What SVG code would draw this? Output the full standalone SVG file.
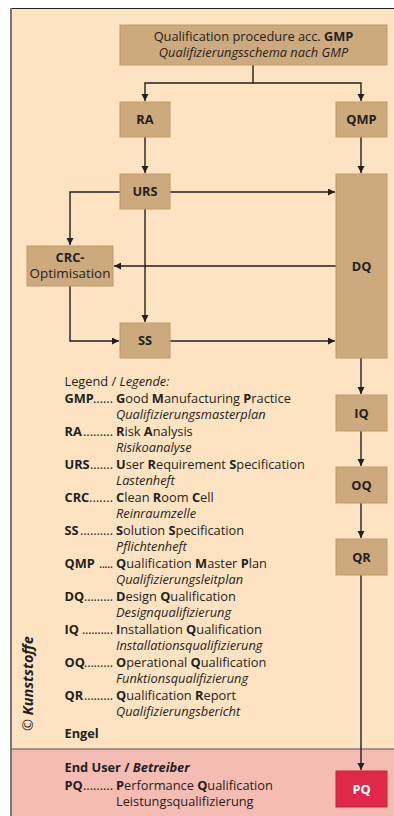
<svg xmlns="http://www.w3.org/2000/svg" width="394" height="816" viewBox="0 0 394 816">
  <style>
    text { font-family: "Open Sans", "Noto Sans", "Liberation Sans", sans-serif; fill: #231f20; }
    .node rect { fill: #cdaa7d; stroke: #bf9a6a; stroke-width: 1; }
    .lbl { font-size: 12.8px; font-weight: bold; text-anchor: middle; }
    .top { font-size: 12.8px; text-anchor: middle; }
    .lg { font-size: 12.8px; }
    .b { font-weight: bold; }
    .i { font-style: italic; }
    .conn path { fill: none; stroke: #231f20; stroke-width: 1.4; }
  </style>
  <defs>
    <marker id="arrow" markerUnits="userSpaceOnUse" markerWidth="8" markerHeight="8" refX="7" refY="3.5" orient="auto">
      <path d="M0,0 L7,3.5 L0,7 z" fill="#231f20"/>
    </marker>
  </defs>

  <!-- frame and backgrounds -->
  <rect x="0" y="0" width="394" height="816" fill="#ffffff"/>
  <rect x="11" y="8" width="383" height="741" fill="#fde3c2"/>
  <rect x="11" y="749" width="383" height="67" fill="#f5bcb4"/>
  <line x1="11" y1="749" x2="394" y2="749" stroke="#555" stroke-width="1"/>
  <line x1="10" y1="8.5" x2="394" y2="8.5" stroke="#222" stroke-width="1.2"/>
  <line x1="11" y1="8" x2="11" y2="816" stroke="#777" stroke-width="2"/>

  <!-- connectors -->
  <g class="conn" id="connectors">
    <path d="M253,65 V83 H145 V101" marker-end="url(#arrow)"/>
    <path d="M253,83 H361 V101" marker-end="url(#arrow)"/>
    <path d="M145,137 V173" marker-end="url(#arrow)"/>
    <path d="M361,137 V173" marker-end="url(#arrow)"/>
    <path d="M170,192 H335" marker-end="url(#arrow)"/>
    <path d="M120,192 H70 V245" marker-end="url(#arrow)"/>
    <path d="M145,209 V322" marker-end="url(#arrow)"/>
    <path d="M336,266 H114" marker-end="url(#arrow)"/>
    <path d="M70,286 V341 H119" marker-end="url(#arrow)"/>
    <path d="M170,341 H335" marker-end="url(#arrow)"/>
    <path d="M361,358 V394" marker-end="url(#arrow)"/>
    <path d="M361,431 V466" marker-end="url(#arrow)"/>
    <path d="M361,503 V538" marker-end="url(#arrow)"/>
    <path d="M361,575 V770" marker-end="url(#arrow)"/>
  </g>

  <!-- nodes -->
  <g class="node" id="node-gmp">
    <rect x="120" y="25" width="267" height="40"/>
    <text class="top" x="253.5" y="40.5">Qualification procedure acc. <tspan class="b">GMP</tspan></text>
    <text class="top i" x="253.5" y="56.5">Qualifizierungsschema nach GMP</text>
  </g>
  <g class="node" id="node-ra">
    <rect x="120" y="102" width="50" height="35"/>
    <text class="lbl" x="145" y="124">RA</text>
  </g>
  <g class="node" id="node-qmp">
    <rect x="336" y="102" width="51" height="35"/>
    <text class="lbl" x="361.5" y="124">QMP</text>
  </g>
  <g class="node" id="node-urs">
    <rect x="120" y="174" width="50" height="35"/>
    <text class="lbl" x="145" y="196">URS</text>
  </g>
  <g class="node" id="node-dq">
    <rect x="336" y="174" width="51" height="184"/>
    <text class="lbl" x="361.5" y="270.5">DQ</text>
  </g>
  <g class="node" id="node-crc">
    <rect x="27" y="246" width="86" height="40"/>
    <text class="lbl" x="70" y="262">CRC-</text>
    <text class="top" x="70" y="277.5" style="font-size:13.4px">Optimisation</text>
  </g>
  <g class="node" id="node-ss">
    <rect x="120" y="323" width="50" height="35"/>
    <text class="lbl" x="145" y="345">SS</text>
  </g>
  <g class="node" id="node-iq">
    <rect x="336" y="395" width="51" height="36"/>
    <text class="lbl" x="361.5" y="417.5">IQ</text>
  </g>
  <g class="node" id="node-oq">
    <rect x="336" y="467" width="51" height="36"/>
    <text class="lbl" x="361.5" y="489.5">OQ</text>
  </g>
  <g class="node" id="node-qr">
    <rect x="336" y="539" width="51" height="36"/>
    <text class="lbl" x="361.5" y="561.5">QR</text>
  </g>
  <g id="node-pq">
    <rect x="336" y="771" width="51" height="36" fill="#e0284a" stroke="#c81f3d" stroke-width="1"/>
    <text class="lbl" x="361.5" y="793.5" style="fill:#ffffff">PQ</text>
  </g>

  <!-- legend: abbreviation, dot leader pinned to end at x=113, description -->
  <g id="legend" class="lg">
    <text x="64.5" y="386">Legend / <tspan class="i">Legende:</tspan></text>

    <text class="b" x="64.5" y="402.5">GMP</text>
    <text x="93" y="402.5" textLength="20" lengthAdjust="spacing">......</text>
    <text x="116" y="402.5"><tspan class="b">G</tspan>ood <tspan class="b">M</tspan>anufacturing <tspan class="b">P</tspan>ractice</text>
    <text class="i" x="116" y="419">Qualifizierungsmasterplan</text>

    <text class="b" x="64.5" y="435.5">RA</text>
    <text x="83" y="435.5" textLength="30" lengthAdjust="spacing">.........</text>
    <text x="116" y="435.5"><tspan class="b">R</tspan>isk <tspan class="b">A</tspan>nalysis</text>
    <text class="i" x="116" y="452">Risikoanalyse</text>

    <text class="b" x="64.5" y="468.5">URS</text>
    <text x="90" y="468.5" textLength="23" lengthAdjust="spacing">.......</text>
    <text x="116" y="468.5"><tspan class="b">U</tspan>ser <tspan class="b">R</tspan>equirement <tspan class="b">S</tspan>pecification</text>
    <text class="i" x="116" y="485">Lastenheft</text>

    <text class="b" x="64.5" y="501.5">CRC</text>
    <text x="89" y="501.5" textLength="24" lengthAdjust="spacing">.......</text>
    <text x="116" y="501.5"><tspan class="b">C</tspan>lean <tspan class="b">R</tspan>oom <tspan class="b">C</tspan>ell</text>
    <text class="i" x="116" y="518">Reinraumzelle</text>

    <text class="b" x="64.5" y="534.5">SS</text>
    <text x="80" y="534.5" textLength="33" lengthAdjust="spacing">..........</text>
    <text x="116" y="534.5"><tspan class="b">S</tspan>olution <tspan class="b">S</tspan>pecification</text>
    <text class="i" x="116" y="551">Pflichtenheft</text>

    <text class="b" x="64.5" y="567.5">QMP</text>
    <text x="99" y="567.5" textLength="14" lengthAdjust="spacing">.....</text>
    <text x="116" y="567.5"><tspan class="b">Q</tspan>ualification <tspan class="b">M</tspan>aster <tspan class="b">P</tspan>lan</text>
    <text class="i" x="116" y="584">Qualifizierungsleitplan</text>

    <text class="b" x="64.5" y="600.5">DQ</text>
    <text x="84" y="600.5" textLength="29" lengthAdjust="spacing">.........</text>
    <text x="116" y="600.5"><tspan class="b">D</tspan>esign <tspan class="b">Q</tspan>ualification</text>
    <text class="i" x="116" y="617">Designqualifizierung</text>

    <text class="b" x="64.5" y="633.5">IQ</text>
    <text x="82" y="633.5" textLength="31" lengthAdjust="spacing">..........</text>
    <text x="116" y="633.5"><tspan class="b">I</tspan>nstallation <tspan class="b">Q</tspan>ualification</text>
    <text class="i" x="116" y="650">Installationsqualifizierung</text>

    <text class="b" x="64.5" y="666.5">OQ</text>
    <text x="84" y="666.5" textLength="29" lengthAdjust="spacing">.........</text>
    <text x="116" y="666.5"><tspan class="b">O</tspan>perational <tspan class="b">Q</tspan>ualification</text>
    <text class="i" x="116" y="683">Funktionsqualifizierung</text>

    <text class="b" x="64.5" y="699.5">QR</text>
    <text x="84" y="699.5" textLength="29" lengthAdjust="spacing">.........</text>
    <text x="116" y="699.5"><tspan class="b">Q</tspan>ualification <tspan class="b">R</tspan>eport</text>
    <text class="i" x="116" y="716">Qualifizierungsbericht</text>

    <text class="b" x="64.5" y="738">Engel</text>

    <text x="64.5" y="772"><tspan class="b">End User / </tspan><tspan class="b i">Betreiber</tspan></text>
    <text class="b" x="64.5" y="789.5">PQ</text>
    <text x="83" y="789.5" textLength="30" lengthAdjust="spacing">.........</text>
    <text x="116" y="789.5"><tspan class="b">P</tspan>erformance <tspan class="b">Q</tspan>ualification</text>
    <text x="116" y="806">Leistungsqualifizierung</text>
  </g>

  <!-- credit line, reading bottom to top -->
  <text transform="translate(32.5,731) rotate(-90)" x="0" y="0" style="font-size:14.5px"><tspan>©</tspan> <tspan class="b i">Kunststoffe</tspan></text>
</svg>
